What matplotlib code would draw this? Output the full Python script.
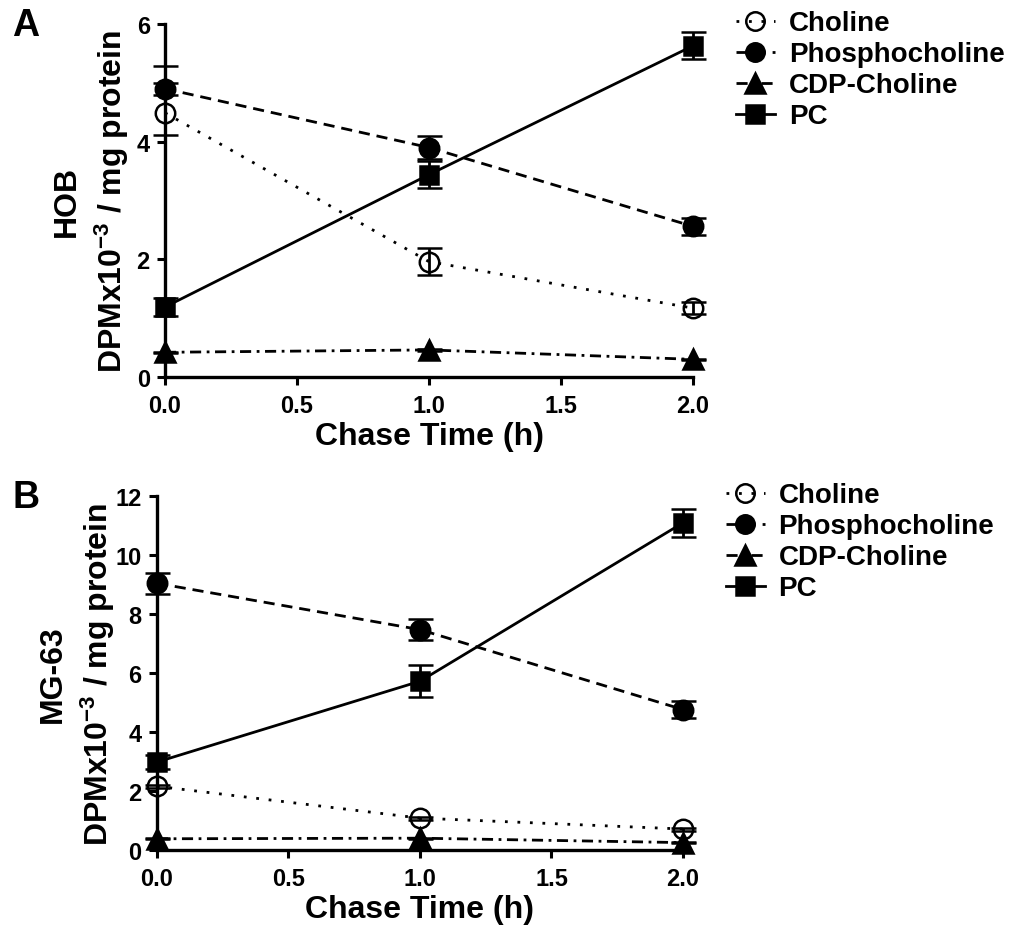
import matplotlib
matplotlib.use("Agg")
import matplotlib.pyplot as plt
from matplotlib.lines import Line2D
import numpy as np

plt.rcParams['font.family'] = ['Liberation Sans', 'DejaVu Sans']
plt.rcParams['font.weight'] = 'bold'
plt.rcParams['mathtext.fontset'] = 'custom'
plt.rcParams['mathtext.rm'] = 'Liberation Sans:bold'
plt.rcParams['mathtext.bf'] = 'Liberation Sans:bold'
plt.rcParams['mathtext.default'] = 'bf'

time = [0.0, 1.0, 2.0]
series_names = ['Choline', 'Phosphocholine', 'CDP-Choline', 'PC']

# Panel A (HOB)
hob_choline = [4.49, 1.96, 1.17]
hob_choline_err_lo = [0.37, 0.23, 0.10]
hob_choline_err_hi = [0.80, 0.23, 0.10]
hob_phospho = [4.90, 3.90, 2.56]
hob_phospho_err = [0.10, 0.20, 0.15]
hob_cdp = [0.42, 0.46, 0.30]
hob_cdp_err = [0.01, 0.01, 0.01]
hob_pc = [1.19, 3.44, 5.63]
hob_pc_err = [0.15, 0.23, 0.23]

# Panel B (MG-63)
mg_choline = [2.16, 1.08, 0.71]
mg_choline_err = [0.05, 0.05, 0.05]
mg_phospho = [9.04, 7.47, 4.76]
mg_phospho_err = [0.35, 0.35, 0.30]
mg_cdp = [0.38, 0.40, 0.25]
mg_cdp_err = [0.02, 0.02, 0.02]
mg_pc = [2.98, 5.72, 11.09]
mg_pc_err = [0.25, 0.55, 0.48]

styles = {
    'Choline': dict(marker='o', linestyle=(0, (1, 3.5)), mfc='none', ms=14),
    'Phosphocholine': dict(marker='o', linestyle=(0, (4, 2.5)), mfc='black', ms=14),
    'CDP-Choline': dict(marker='^', linestyle=(0, (4, 2, 1, 2)), mfc='black', ms=15),
    'PC': dict(marker='s', linestyle='-', mfc='black', ms=13),
}

fig = plt.figure(figsize=(10.10, 9.37), dpi=100)

def draw(ax, data, ymax, ystep, ylabel, label_x):
    for name, (vals, err) in zip(series_names, data):
        st = styles[name]
        ax.errorbar(time, vals, yerr=err, color='black', linestyle=st['linestyle'],
                    linewidth=2.0, marker=st['marker'], markersize=st['ms'],
                    markerfacecolor=st['mfc'], markeredgecolor='black', markeredgewidth=1.8,
                    elinewidth=2.0, capsize=9, capthick=2.0, clip_on=False, zorder=3)
    ax.set_xlim(0, 2)
    ax.set_ylim(0, ymax)
    ax.set_xticks([0, 0.5, 1.0, 1.5, 2.0])
    ax.set_xticklabels(['0.0', '0.5', '1.0', '1.5', '2.0'])
    ax.set_yticks(np.arange(0, ymax + 0.01, ystep))
    for s in ['top', 'right']:
        ax.spines[s].set_visible(False)
    for s in ['left', 'bottom']:
        ax.spines[s].set_linewidth(2.4)
    ax.tick_params(axis='both', direction='out', width=2.2, length=6, labelsize=17, pad=5)
    ax.tick_params(axis='x', pad=6)
    for lab in ax.get_xticklabels() + ax.get_yticklabels():
        lab.set_fontweight('bold')
    ax.set_xlabel('Chase Time (h)', fontsize=23, fontweight='bold', labelpad=3)
    ax.set_ylabel(ylabel, fontsize=23, fontweight='bold', linespacing=1.36)
    ax.yaxis.set_label_coords(label_x, 0.5)
    handles = [Line2D([0], [0], color='black', linestyle=styles[n]['linestyle'], linewidth=2.0,
                      marker=styles[n]['marker'], markersize=styles[n]['ms'] * 0.95,
                      markerfacecolor=styles[n]['mfc'], markeredgecolor='black',
                      markeredgewidth=1.8) for n in series_names]
    leg = ax.legend(handles, series_names, loc='upper left', bbox_to_anchor=(1.06, 1.07),
                    frameon=False, fontsize=20, handlelength=1.4, handletextpad=0.5,
                    labelspacing=0.18, borderaxespad=0)
    for t in leg.get_texts():
        t.set_fontweight('bold')

axA = fig.add_axes([0.1634, 0.5966, 0.5228, 0.3767])
draw(axA, [(hob_choline, [hob_choline_err_lo, hob_choline_err_hi]),
           (hob_phospho, hob_phospho_err),
           (hob_cdp, hob_cdp_err),
           (hob_pc, hob_pc_err)], 6, 2, 'HOB\nDPMx10$^{-3}$ / mg protein', -0.0653)

axB = fig.add_axes([0.1554, 0.0918, 0.5208, 0.3778])
draw(axB, [(mg_choline, mg_choline_err),
           (mg_phospho, mg_phospho_err),
           (mg_cdp, mg_cdp_err),
           (mg_pc, mg_pc_err)], 12, 2, 'MG-63\nDPMx10$^{-3}$ / mg protein', -0.0765)

fig.text(0.012, 0.962, 'A', fontsize=27, fontweight='bold')
fig.text(0.012, 0.458, 'B', fontsize=27, fontweight='bold')

fig.savefig('out.png', dpi=100)
